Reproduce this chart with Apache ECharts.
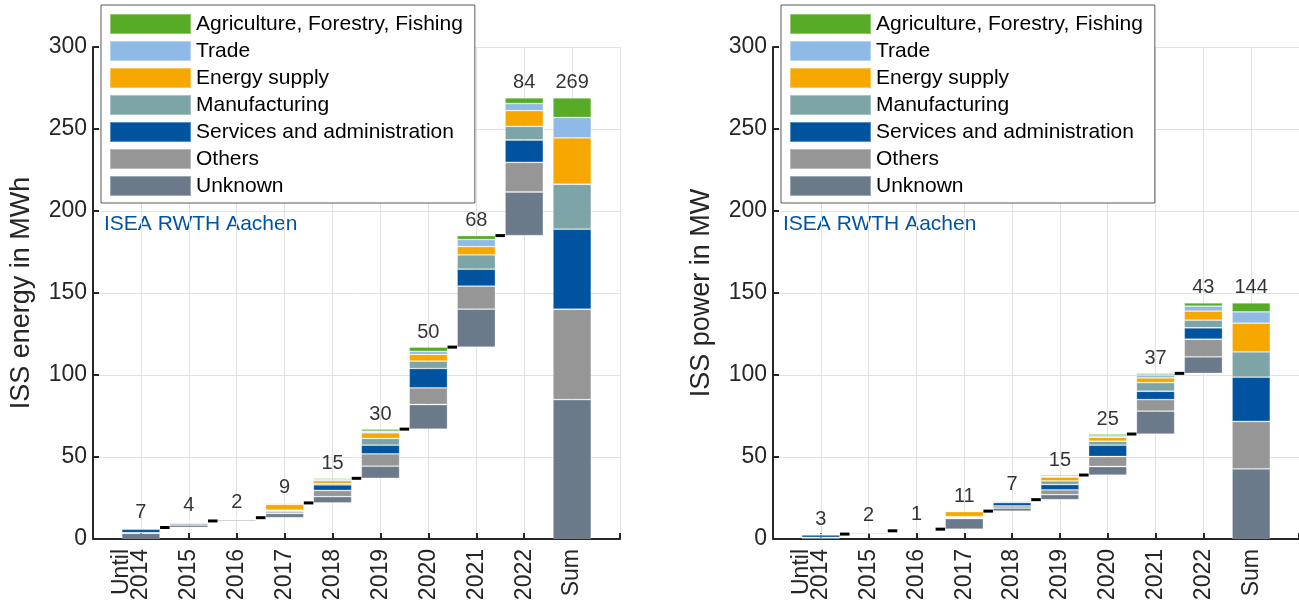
<!DOCTYPE html>
<html>
<head>
<meta charset="utf-8">
<script src="https://cdn.jsdelivr.net/npm/echarts@6/dist/echarts.min.js"></script>
<style>
html, body { margin: 0; padding: 0; background: #fff; }
#chart { width: 1299px; height: 607px; }
</style>
</head>
<body>
<div id="chart"></div>
<script>
// categories on the x axis (padded with an empty slot on each side)
var categories = ['Until\n2014\n ', '2015', '2016', '2017', '2018', '2019', '2020', '2021', '2022', 'Sum'];

// sectors, legend order (top to bottom)
var sectors = ['Agriculture, Forestry, Fishing', 'Trade', 'Energy supply', 'Manufacturing',
    'Services and administration', 'Others', 'Unknown'];
var sectorColors = ['#57ab27', '#8ebae5', '#f6a800', '#7da4a7', '#00549f', '#969696', '#6b7a8b'];

// energy in MWh per year (last value = Sum bar)
var energyUnknown  = [3.5, 1.5, 0.8, 2.5, 3.8, 7.4, 15.0, 23.2, 26.6, 85.0];
var energyOthers   = [0.3, 1.0, 0.5, 1.0, 3.8, 7.5, 10.2, 14.0, 18.1, 55.1];
var energyServices = [2.2, 0.5, 0.2, 0.6, 3.4, 5.3, 11.8, 10.3, 13.6, 48.8];
var energyManuf    = [0.3, 0.4, 0.2, 0.5, 0.8, 4.1, 4.5, 8.8, 8.3, 27.4];
var energySupply   = [0.1, 0.3, 0.2, 3.5, 1.8, 3.5, 4.1, 5.0, 9.6, 28.3];
var energyTrade    = [0.6, 0.2, 0.1, 0.6, 0.6, 0.9, 1.8, 4.3, 4.3, 12.4];
var energyAgri     = [0.0, 0.1, 0.0, 0.3, 0.8, 1.3, 2.6, 2.4, 3.5, 12.0];
var energyTotals   = [7, 4, 2, 9, 15, 30, 50, 68, 84, 269];

// power in MW per year (last value = Sum bar)
var powerUnknown  = [0.8, 0.6, 0.3, 6.5, 1.8, 3.0, 5.2, 14.0, 10.1, 42.8];
var powerOthers   = [0.2, 0.3, 0.2, 0.5, 1.4, 3.0, 6.1, 7.0, 10.7, 28.9];
var powerServices = [1.5, 0.5, 0.1, 0.3, 2.0, 3.2, 6.9, 5.1, 7.0, 27.0];
var powerManuf    = [0.2, 0.2, 0.1, 0.4, 0.6, 2.2, 2.4, 5.2, 4.6, 15.4];
var powerSupply   = [0.1, 0.2, 0.2, 3.0, 0.6, 2.4, 2.4, 2.9, 5.6, 17.5];
var powerTrade    = [0.2, 0.1, 0.1, 0.2, 0.3, 0.4, 0.8, 1.8, 3.0, 6.9];
var powerAgri     = [0.0, 0.1, 0.0, 0.1, 0.3, 0.8, 1.2, 1.0, 2.0, 5.5];
var powerTotals   = [3, 2, 1, 11, 7, 15, 25, 37, 43, 144];

var yTicks = { min: 0, max: 300, interval: 50 };

var FONT = '"Liberation Sans", Arial, Helvetica, sans-serif';
var TXT = '#262626';

function pad(arr) { return [null].concat(arr, [null]); }

function buildPanel(idx, bottomUp, totals) {
    // bottomUp: value arrays from Unknown (bottom) to Agriculture (top)
    var n = totals.length;
    var bases = [], tops = [], run = 0;
    for (var i = 0; i < n; i++) {
        if (i === n - 1) { bases.push(0); tops.push(totals[i]); }
        else { bases.push(run); run += totals[i]; tops.push(run); }
    }
    var stack = 'st' + idx;
    var list = [{
        type: 'bar', name: 'base', stack: stack, xAxisIndex: idx, yAxisIndex: idx,
        barWidth: '80%', silent: true,
        itemStyle: { color: 'transparent' },
        data: pad(bases)
    }];
    var namesBottomUp = sectors.slice().reverse();
    var colorsBottomUp = sectorColors.slice().reverse();
    bottomUp.forEach(function (vals, k) {
        list.push({
            type: 'bar', name: namesBottomUp[k], stack: stack, xAxisIndex: idx, yAxisIndex: idx,
            barWidth: '80%',
            itemStyle: { color: colorsBottomUp[k], borderColor: 'rgba(255,255,255,0.35)', borderWidth: 0.8 },
            data: pad(vals)
        });
    });
    // step connectors between consecutive years (not to the Sum bar)
    var steps = [];
    for (var j = 0; j < n - 2; j++) steps.push([j + 1, tops[j]]);
    list.push({
        type: 'custom', xAxisIndex: idx, yAxisIndex: idx, z: 5, silent: true,
        renderItem: function (params, api) {
            var p = api.coord([api.value(0), api.value(1)]);
            var band = api.size([1, 0])[0];
            var half = band * 0.8 / 2;
            return {
                type: 'line',
                shape: { x1: p[0] + half, y1: p[1], x2: p[0] + band - half, y2: p[1] },
                style: { stroke: '#000', lineWidth: 3 }
            };
        },
        data: steps
    });
    // total labels
    list.push({
        type: 'scatter', xAxisIndex: idx, yAxisIndex: idx, symbolSize: 0, silent: true, z: 6,
        label: {
            show: true, position: 'top', distance: 5,
            fontFamily: FONT, fontSize: 20, color: '#000',
            formatter: function (p) { return totals[p.dataIndex]; }
        },
        data: tops.map(function (t, i) { return [i + 1, t]; })
    });
    return list;
}

function xAxisFor(idx) {
    return {
        type: 'category', gridIndex: idx, boundaryGap: false,
        data: pad(categories).map(function (c) { return c === null ? '' : c; }),
        axisLine: { lineStyle: { color: TXT, width: 2 } },
        axisTick: { inside: true, length: 6, lineStyle: { color: TXT, width: 2 }, interval: 0 },
        axisLabel: {
            rotate: 90, interval: 0, margin: 10, fontFamily: FONT, fontSize: 23, color: TXT, lineHeight: 19
        },
        splitLine: { show: true, interval: 0, lineStyle: { color: '#e2e2e2', width: 1 } }
    };
}

function yAxisFor(idx, title) {
    return {
        type: 'value', gridIndex: idx, min: yTicks.min, max: yTicks.max, interval: yTicks.interval,
        name: title, nameLocation: 'middle', nameGap: 58,
        nameTextStyle: { fontFamily: FONT, fontSize: 27, color: TXT },
        axisLine: { show: true, lineStyle: { color: TXT, width: 2 } },
        axisTick: { show: true, inside: true, length: 6, lineStyle: { color: TXT, width: 2 } },
        axisLabel: { margin: 6, fontFamily: FONT, fontSize: 23, color: TXT },
        splitLine: { show: true, lineStyle: { color: '#e2e2e2', width: 1 } }
    };
}

function legendAt(left) {
    return {
        left: left, top: 5, orient: 'vertical', icon: 'rect',
        itemWidth: 81, itemHeight: 20, itemGap: 5,
        padding: [8, 12, 6, 8],
        borderColor: '#5a5a5a', borderWidth: 1, backgroundColor: '#fff',
        textStyle: { fontFamily: FONT, fontSize: 21, color: '#000', lineHeight: 20 },
        selectedMode: false,
        data: sectors
    };
}

var chart = echarts.init(document.getElementById('chart'));
var series = buildPanel(0,
    [energyUnknown, energyOthers, energyServices, energyManuf, energySupply, energyTrade, energyAgri],
    energyTotals
).concat(buildPanel(1,
    [powerUnknown, powerOthers, powerServices, powerManuf, powerSupply, powerTrade, powerAgri],
    powerTotals
));

chart.setOption({
    animation: false,
    backgroundColor: '#fff',
    grid: [
        { left: 93, top: 47, width: 527, height: 492 },
        { left: 773, top: 47, width: 526, height: 492 }
    ],
    xAxis: [xAxisFor(0), xAxisFor(1)],
    yAxis: [yAxisFor(0, 'ISS energy in MWh'), yAxisFor(1, 'ISS power in MW')],
    legend: [legendAt(101), legendAt(781)],
    graphic: [
        { type: 'text', left: 104, top: 214, style: { text: 'ISEA RWTH Aachen', fontFamily: FONT, fontSize: 21, fill: '#00549f' } },
        { type: 'text', left: 783, top: 214, style: { text: 'ISEA RWTH Aachen', fontFamily: FONT, fontSize: 21, fill: '#00549f' } }
    ],
    series: series
});
</script>
</body>
</html>
